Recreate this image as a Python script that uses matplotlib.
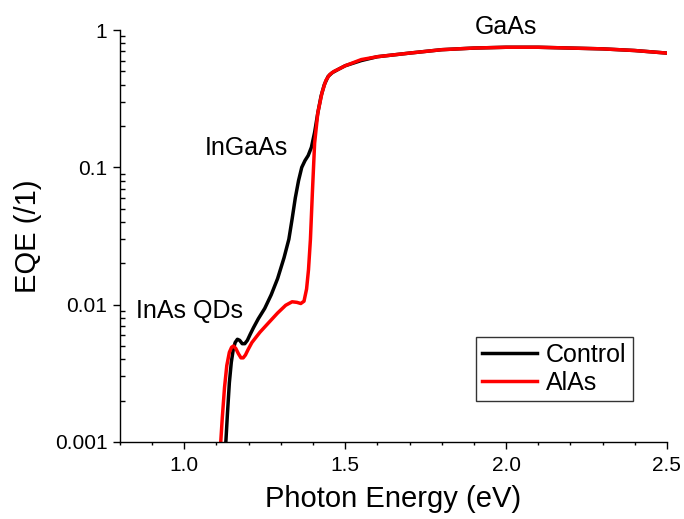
import matplotlib
matplotlib.use("Agg")
import matplotlib.pyplot as plt
from matplotlib.ticker import MultipleLocator, LogLocator, NullFormatter

plt.rcParams['font.family'] = ['Liberation Sans', 'DejaVu Sans']

control_E = [1.128, 1.134, 1.140, 1.146, 1.152, 1.158, 1.165, 1.172, 1.180, 1.188, 1.196, 1.205,
             1.215, 1.230, 1.250, 1.270, 1.290, 1.310, 1.325, 1.335, 1.345, 1.355, 1.365,
             1.375, 1.385, 1.395, 1.405, 1.415, 1.425, 1.435, 1.447, 1.460, 1.48, 1.50,
             1.55, 1.60, 1.70, 1.80, 1.90, 2.00, 2.10, 2.20, 2.30, 2.40, 2.50]
control_eqe = [0.0009, 0.0016, 0.0027, 0.0038, 0.0047, 0.0053, 0.0056, 0.0055, 0.0052, 0.0052, 0.0055, 0.0061,
               0.0068, 0.0079, 0.0094, 0.0118, 0.0155, 0.022, 0.030, 0.042, 0.060, 0.080, 0.100,
               0.112, 0.122, 0.140, 0.180, 0.250, 0.330, 0.400, 0.460, 0.490, 0.52, 0.55,
               0.60, 0.64, 0.68, 0.72, 0.74, 0.75, 0.75, 0.74, 0.73, 0.71, 0.68]

alas_E = [1.112, 1.118, 1.125, 1.132, 1.140, 1.147, 1.153, 1.160, 1.168, 1.176, 1.183, 1.190, 1.198,
          1.210, 1.235, 1.260, 1.290, 1.315, 1.335, 1.350, 1.362, 1.372, 1.380, 1.386, 1.392,
          1.398, 1.405, 1.415, 1.428, 1.440, 1.452, 1.465, 1.48, 1.50,
          1.55, 1.60, 1.70, 1.80, 1.90, 2.00, 2.10, 2.20, 2.30, 2.40, 2.50]
alas_eqe = [0.0009, 0.0015, 0.0025, 0.0036, 0.0045, 0.0049, 0.0050, 0.0048, 0.0044, 0.0041, 0.0041, 0.0043, 0.0047,
            0.0053, 0.0063, 0.0073, 0.0087, 0.0099, 0.0105, 0.0104, 0.0102, 0.0106, 0.013, 0.018, 0.030,
            0.065, 0.150, 0.250, 0.350, 0.430, 0.475, 0.500, 0.52, 0.55,
            0.61, 0.64, 0.68, 0.72, 0.74, 0.75, 0.75, 0.74, 0.73, 0.71, 0.68]

fig = plt.figure(figsize=(6.84, 5.19), dpi=100)
ax = fig.add_axes([0.1754, 0.1484, 0.7996, 0.7936])

ax.plot(control_E, control_eqe, color='black', lw=2.5, label='Control')
ax.plot(alas_E, alas_eqe, color='#ff0000', lw=2.5, label='AlAs')

ax.set_yscale('log')
ax.set_xlim(0.8, 2.5)
ax.set_ylim(0.001, 1)

ax.set_yticks([0.001, 0.01, 0.1, 1])
ax.set_yticklabels(['0.001', '0.01', '0.1', '1'])
ax.yaxis.set_minor_locator(LogLocator(base=10, subs=range(2, 10)))
ax.yaxis.set_minor_formatter(NullFormatter())
ax.set_xticks([1.0, 1.5, 2.0, 2.5])
ax.set_xticklabels(['1.0', '1.5', '2.0', '2.5'])
ax.xaxis.set_minor_locator(MultipleLocator(0.1))

ax.tick_params(axis='y', which='major', direction='out', length=5, width=1, labelsize=15, pad=4)
ax.tick_params(axis='y', which='minor', direction='in', length=3.6, width=1)
ax.tick_params(axis='x', which='major', direction='out', length=5, width=1, labelsize=15, pad=5)
ax.tick_params(axis='x', which='minor', direction='out', length=2.5, width=1)

for s in ['top', 'right']:
    ax.spines[s].set_visible(False)
for s in ['left', 'bottom']:
    ax.spines[s].set_linewidth(1)

ax.set_xlabel('Photon Energy (eV)', fontsize=21, labelpad=7)
ax.set_ylabel('EQE (/1)', fontsize=21, labelpad=9)

ax.text(0.85, 0.0080, 'InAs QDs', fontsize=18)
ax.text(1.064, 0.123, 'InGaAs', fontsize=18)
ax.text(1.902, 0.935, 'GaAs', fontsize=18)

leg = ax.legend(loc='upper right', bbox_to_anchor=(0.938, 0.255), fontsize=18, frameon=True,
                fancybox=False, edgecolor='black', handlelength=2.2, borderpad=0.25,
                labelspacing=0.15, handletextpad=0.35, borderaxespad=0.0)
leg.get_frame().set_linewidth(1)

fig.savefig('out.png', dpi=100)
